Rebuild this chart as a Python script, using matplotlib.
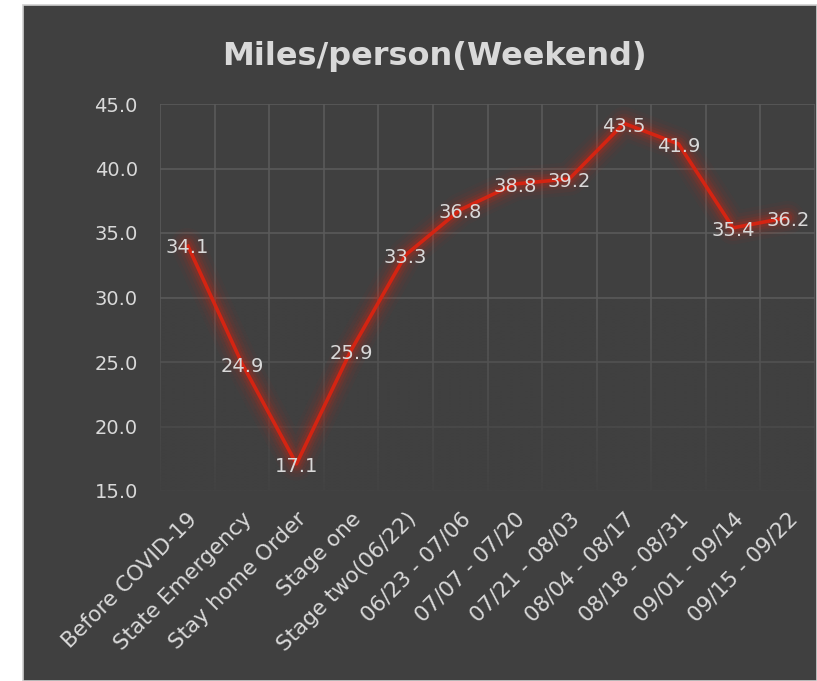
import numpy as np
import matplotlib
matplotlib.use("Agg")
import matplotlib.pyplot as plt
from matplotlib.patches import Rectangle

categories = ["Before COVID-19", "State Emergency", "Stay home Order", "Stage one",
              "Stage two(06/22)", "06/23 - 07/06", "07/07 - 07/20", "07/21 - 08/03",
              "08/04 - 08/17", "08/18 - 08/31", "09/01 - 09/14", "09/15 - 09/22"]
values = [34.1, 24.9, 17.1, 25.9, 33.3, 36.8, 38.8, 39.2, 43.5, 41.9, 35.4, 36.2]
yticks = [15.0, 20.0, 25.0, 30.0, 35.0, 40.0, 45.0]
title = "Miles/person(Weekend)"

W, H = 817, 681
BG = "#404040"
TXT = "#d9d9d9"
GRID = "#5a5a5a"
RED = "#d42412"

fig = plt.figure(figsize=(W / 100, H / 100), dpi=100)
fig.patch.set_facecolor("white")
# dark chart area with light border
fig.patches.append(Rectangle((23 / W, 0), 1 - 23 / W, 1 - 5 / H, transform=fig.transFigure,
                             facecolor=BG, edgecolor="#cfcfcf", linewidth=1.2, zorder=-5))

ax = fig.add_axes([160 / W, 1 - 491 / H, (815 - 160) / W, (491 - 104) / H])
ax.set_zorder(1)
ax.set_facecolor(BG)
x = np.arange(len(categories))
for s in ax.spines.values():
    s.set_visible(False)

ax.set_yticks(yticks)
ax.set_yticklabels([f"{v:.1f}" for v in yticks])
ax.set_xticks(x)
ax.set_xticks(np.arange(len(categories) + 1) - 0.5, minor=True)
ax.set_xticklabels(categories, rotation=45, ha="right", va="top", rotation_mode="anchor")
ax.tick_params(axis="both", which="both", length=0, colors=TXT)
ax.tick_params(axis="y", pad=16, labelsize=14)
ax.tick_params(axis="x", pad=13, labelsize=15.5)
ax.set_axisbelow(True)
ax.grid(True, axis="y", which="major", color=GRID, linewidth=1.2)
ax.grid(True, axis="x", which="minor", color=GRID, linewidth=1.2)
ax.grid(False, axis="x", which="major")

# fade toward the bottom
grad = np.linspace(0, 1, 256)[:, None]
alpha = np.clip((0.5 - grad) / 0.5, 0, 1) * 0.9
img = np.zeros((256, 1, 4))
img[..., 0] = 0x40 / 255
img[..., 1] = 0x40 / 255
img[..., 2] = 0x40 / 255
img[..., 3] = alpha
ax.imshow(img, extent=(0, 1, 0, 1), transform=ax.transAxes, origin="lower",
          aspect="auto", zorder=1, interpolation="bilinear")
ax.set_xlim(-0.5, len(categories) - 0.5)
ax.set_ylim(15, 45)

# glow
for lw, a in [(24, 0.04), (19, 0.06), (14, 0.08), (10, 0.12), (6.5, 0.18)]:
    ax.plot(x, values, color=RED, linewidth=lw, alpha=a, solid_capstyle="round",
            solid_joinstyle="round", zorder=2, clip_on=False)
ax.plot(x, values, color=RED, linewidth=2.6, solid_capstyle="butt",
        solid_joinstyle="round", zorder=3, clip_on=False)

for xi, v in zip(x, values):
    ax.annotate(f"{v:.1f}", (xi, v), xytext=(0, -2), textcoords="offset points",
                ha="center", va="center", color=TXT, fontsize=14, zorder=4)

fig.text(434 / W, 1 - 57 / H, title, ha="center", va="center", color=TXT,
         fontsize=23, fontweight="bold")

fig.savefig("out.png", dpi=100, facecolor=fig.get_facecolor())
